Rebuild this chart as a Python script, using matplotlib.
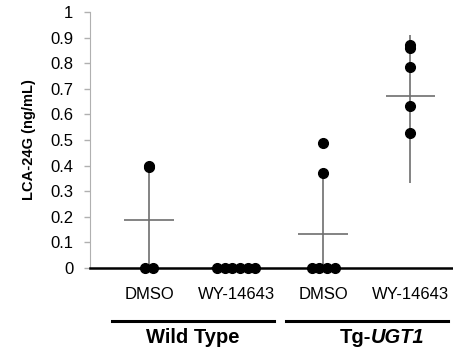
import numpy as np
import matplotlib.pyplot as plt

plt.rcParams['font.family'] = ['Liberation Sans', 'DejaVu Sans']

# treatment labels and groups
treatments = ['DMSO', 'WY-14643', 'DMSO', 'WY-14643']
groups = [('Wild Type', ''), ('Tg-', 'UGT1')]

# individual values (ng/mL)
wt_dmso = [0.40, 0.395, 0.0, 0.0]
wt_wy = [0.0, 0.0, 0.0, 0.0, 0.0, 0.0]
tg_dmso = [0.49, 0.37, 0.0, 0.0, 0.0, 0.0]
tg_wy = [0.873, 0.86, 0.785, 0.633, 0.528]
values = [wt_dmso, wt_wy, tg_dmso, tg_wy]

# mean and error
means = [0.187, 0.0, 0.131, 0.673]
err_low = [0.208, 0.0, 0.241, 0.341]
err_high = [0.208, 0.0, 0.241, 0.239]

fig = plt.figure(figsize=(4.53, 3.53), dpi=100)
ax = fig.add_axes([0.1987, 0.2422, 0.8013, 0.7224])

x = np.arange(len(treatments))
grey = '#6e6e6e'

# error bars and mean lines
ax.errorbar(x, means, yerr=[err_low, err_high], fmt='none', ecolor=grey,
            elinewidth=1.2, capsize=0, zorder=2)
ax.hlines(means, x - 0.285, x + 0.285, color=grey, lw=1.2, zorder=2)

# points, identical values spread sideways
spacing = 0.088
for xi, vals in zip(x, values):
    vals = np.array(vals)
    for v in np.unique(vals):
        n = np.sum(vals == v)
        offs = (np.arange(n) - (n - 1) / 2) * spacing
        ax.plot(xi + offs, [v] * n, 'o', color='black', ms=7, zorder=3,
                clip_on=False)

ax.set_xlim(-0.68, 3.49)
ax.set_ylim(0, 1)
ax.set_yticks(np.arange(0, 1.01, 0.1))
ax.set_yticklabels(['0', '0.1', '0.2', '0.3', '0.4', '0.5', '0.6', '0.7',
                    '0.8', '0.9', '1'])
ax.set_xticks(x)
ax.set_xticklabels(treatments, fontsize=12)
ax.tick_params(axis='x', length=0, pad=14)
ax.tick_params(axis='y', length=4, color='#b0b0b0', width=1, labelsize=12,
               pad=8)
ax.spines['top'].set_visible(False)
ax.spines['right'].set_visible(False)
ax.spines['left'].set_color('#b0b0b0')
ax.spines['bottom'].set_linewidth(1.8)
ax.spines['bottom'].set_zorder(4)
ax.set_ylabel('LCA-24G (ng/mL)', fontsize=10.5, fontweight='bold', labelpad=10)

# group bars under the treatment labels
trans = ax.get_xaxis_transform()
for cx, (plain, ital) in zip([0.5, 2.5], groups):
    ax.plot([cx - 0.93, cx + 0.93], [-0.21, -0.21], color='black', lw=2.2,
            transform=trans, clip_on=False)
    if ital:
        ax.text(cx + 0.05, -0.275, plain, transform=trans, ha='right',
                va='center', fontsize=14.5, fontweight='bold')
        ax.text(cx + 0.05, -0.275, ital, transform=trans, ha='left',
                va='center', fontsize=14.5, fontweight='bold', style='italic')
    else:
        ax.text(cx, -0.275, plain, transform=trans, ha='center', va='center',
                fontsize=14.5, fontweight='bold')

fig.savefig('out.png', dpi=100)
